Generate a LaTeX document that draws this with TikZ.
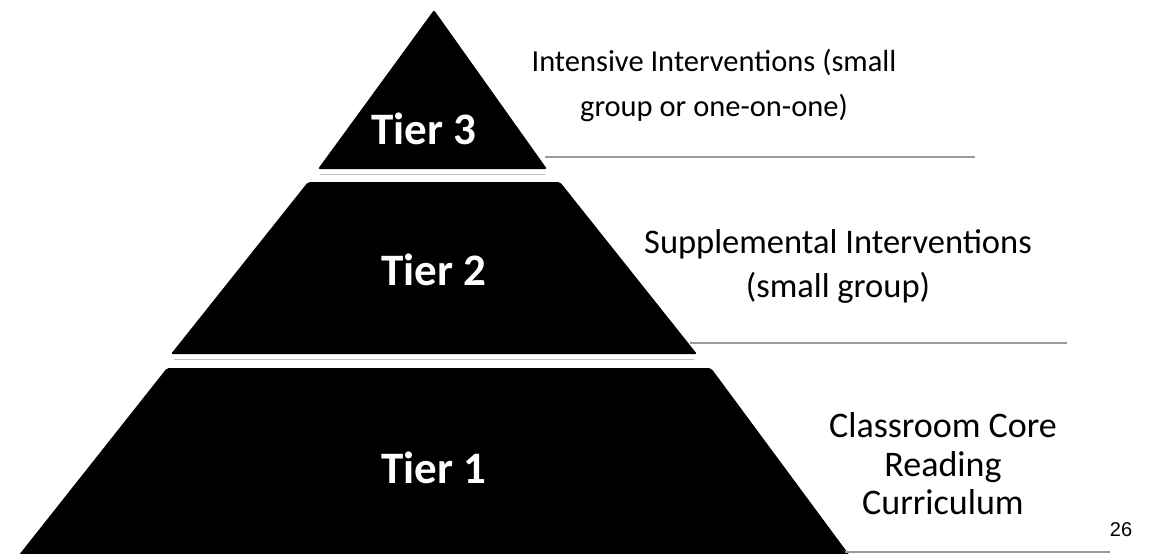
\documentclass[tikz,border=0pt]{standalone}
\usepackage{fontspec}
\setmainfont{Carlito}
\newfontfamily\pagefont{Liberation Sans}
\tikzset{
    tierbox/.style={fill=black, rounded corners=2pt},
    tierlabel/.style={text=white, font=\fontsize{45}{48}\selectfont\bfseries, inner sep=0pt},
    sidenote/.style={align=center, inner sep=0pt},
    sepline/.style={draw=black!40, line width=1.1pt}
}
\begin{document}
\begin{tikzpicture}[x=1pt, y=-1pt]
    \useasboundingbox[fill=white] (0,0) rectangle (1151,554);

    % Pyramid
    \fill[tierbox] (434,10) -- (547,169) -- (318,169) -- cycle;
    \fill[tierbox] (308,182) -- (560,182) -- (697,354) -- (171,354) -- cycle;
    \fill[tierbox] (167,368) -- (711,368) -- (853,560) -- (15,560) -- cycle;

    % Tier names
    \node[tierlabel] (t3) at (424,129) {Tier 3};
    \node[tierlabel] (t2) at (434,270) {Tier 2};
    \node[tierlabel] (t1) at (434,468) {Tier 1};

    % Separators
    \draw[sepline] (545,157) -- (975,157);
    \draw[sepline] (690,343) -- (1067,343);
    \draw[sepline] (845,552) -- (1110,552);
    \draw[black!25, line width=0.8pt] (320,174) -- (545,174);
    \draw[black!25, line width=0.8pt] (174,359) -- (694,359);

    % Descriptions
    \node[sidenote, font=\fontsize{30.5}{45}\selectfont] (d3) at (714,85)
        {Intensive Interventions (small\\group or one-on-one)};
    \node[sidenote, font=\fontsize{34.5}{44}\selectfont] (d2) at (838,266)
        {Supplemental Interventions\\(small group)};
    \node[sidenote, font=\fontsize{36}{38.5}\selectfont] (d1) at (943,464)
        {Classroom Core\\Reading\\Curriculum};

    % Page number
    \node[font=\pagefont\fontsize{20}{22}\selectfont, inner sep=0pt] (pg) at (1121,530) {26};
\end{tikzpicture}
\end{document}
